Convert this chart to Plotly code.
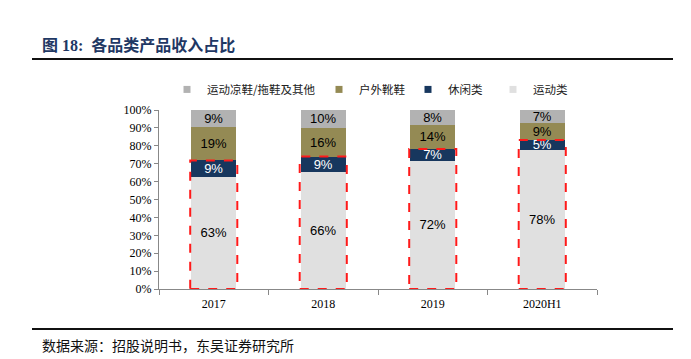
import plotly.graph_objects as go

categories = ["2017", "2018", "2019", "2020H1"]
sports = [62.6, 65.5, 71.6, 77.7]          # 运动类
casual = [9.2, 8.5, 6.6, 5.5]              # 休闲类
outdoor = [18.6, 16.2, 13.5, 9.4]          # 户外靴鞋
sandals = [9.6, 9.8, 8.3, 7.4]             # 运动凉鞋/拖鞋及其他
sports_lbl = ["63%", "66%", "72%", "78%"]
casual_lbl = ["9%", "9%", "7%", "5%"]
outdoor_lbl = ["19%", "16%", "14%", "9%"]
sandals_lbl = ["9%", "10%", "8%", "7%"]
y_ticks = list(range(0, 101, 10))
y_tick_text = [f"{v}%" for v in y_ticks]

names = ["运动类", "休闲类", "户外靴鞋", "运动凉鞋/拖鞋及其他"]
colors = ["#e0e0e0", "#17375e", "#948a54", "#b2b2b2"]
txtcol = ["#000000", "#ffffff", "#000000", "#000000"]
series = [sports, casual, outdoor, sandals]
labels = [sports_lbl, casual_lbl, outdoor_lbl, sandals_lbl]

fig = go.Figure()
for s, lb, c, tc, n in zip(series, labels, colors, txtcol, names):
    fig.add_trace(go.Bar(
        x=categories, y=s, text=lb, textposition="inside", insidetextanchor="middle",
        textangle=0, constraintext="none",
        textfont=dict(family="Liberation Sans, Arial", size=13, color=tc),
        marker=dict(color=c, line=dict(width=0)), name=n, showlegend=False,
        hoverinfo="skip"))

# legend entries (small square markers), each in its own legend
leg_x = [167, 319, 408, 493]
order = [3, 2, 1, 0]
for k, idx in enumerate(order):
    lname = "legend" if k == 0 else f"legend{k+1}"
    fig.add_trace(go.Scatter(
        x=[None], y=[None], mode="markers", name=names[idx],
        marker=dict(symbol="square", size=7, color=colors[idx]),
        showlegend=True, legend=lname))
    fig.update_layout(**{lname: dict(
        x=(leg_x[k] - 159) / (691 - 159 - 94), xref="paper", xanchor="left",
        y=1.115, yanchor="middle", orientation="h",
        font=dict(family="Noto Sans CJK SC", size=11.5, color="#222222"),
        bgcolor="rgba(0,0,0,0)", itemwidth=30, tracegroupgap=0)})

# red dashed boxes around 运动类 + 休闲类
for i, (a, b) in enumerate(zip(sports, casual)):
    fig.add_shape(type="rect", xref="x", yref="y", x0=i - 0.215, x1=i + 0.215,
                  y0=0, y1=a + b, line=dict(color="#ff1a1a", width=2, dash="dash"),
                  fillcolor="rgba(0,0,0,0)", layer="above")

# title and rules
fig.add_annotation(xref="paper", yref="paper", x=-(159 - 40) / 438, y=1 + (110 - 45) / 179,
                   xanchor="left", yanchor="middle", showarrow=False,
                   text="<b>图 18:  各品类产品收入占比</b>",
                   font=dict(family="Liberation Serif, Noto Sans CJK SC", size=16, color="#1f3864"))
fig.add_shape(type="line", xref="paper", yref="paper",
              x0=(32 - 159) / 438, x1=(673 - 159) / 438,
              y0=1 + (110 - 59) / 179, y1=1 + (110 - 59) / 179,
              line=dict(color="#111111", width=2))
fig.add_shape(type="line", xref="paper", yref="paper",
              x0=(32 - 159) / 438, x1=(673 - 159) / 438,
              y0=-(329 - 289) / 179, y1=-(329 - 289) / 179,
              line=dict(color="#111111", width=2))
fig.add_annotation(xref="paper", yref="paper", x=-(159 - 40) / 438, y=-(345 - 289) / 179,
                   xanchor="left", yanchor="middle", showarrow=False,
                   text="数据来源：招股说明书，东吴证券研究所",
                   font=dict(family="Noto Sans CJK SC", size=14, color="#111111"))

fig.update_layout(
    barmode="stack", bargap=0.59,
    width=691, height=359,
    margin=dict(l=159, r=94, t=110, b=70),
    paper_bgcolor="white", plot_bgcolor="white",
    uniformtext=dict(mode="show", minsize=13),
    xaxis=dict(type="category", showline=True, linecolor="#888888", linewidth=1,
               ticks="outside", tickson="boundaries", ticklen=5, tickcolor="#888888",
               ticklabelstandoff=4,
               tickfont=dict(family="Liberation Serif", size=12, color="#000000"),
               showgrid=False),
    yaxis=dict(range=[0, 100], tickvals=y_ticks, ticktext=y_tick_text,
               showline=True, linecolor="#888888", linewidth=1,
               ticks="outside", ticklen=4, tickcolor="#888888",
               tickfont=dict(family="Liberation Serif", size=12, color="#000000"),
               showgrid=False, zeroline=False),
)

fig.write_html("out.html", config={"displayModeBar": False},
               post_script="document.body.style.margin='0px';document.body.style.overflow='hidden';")
